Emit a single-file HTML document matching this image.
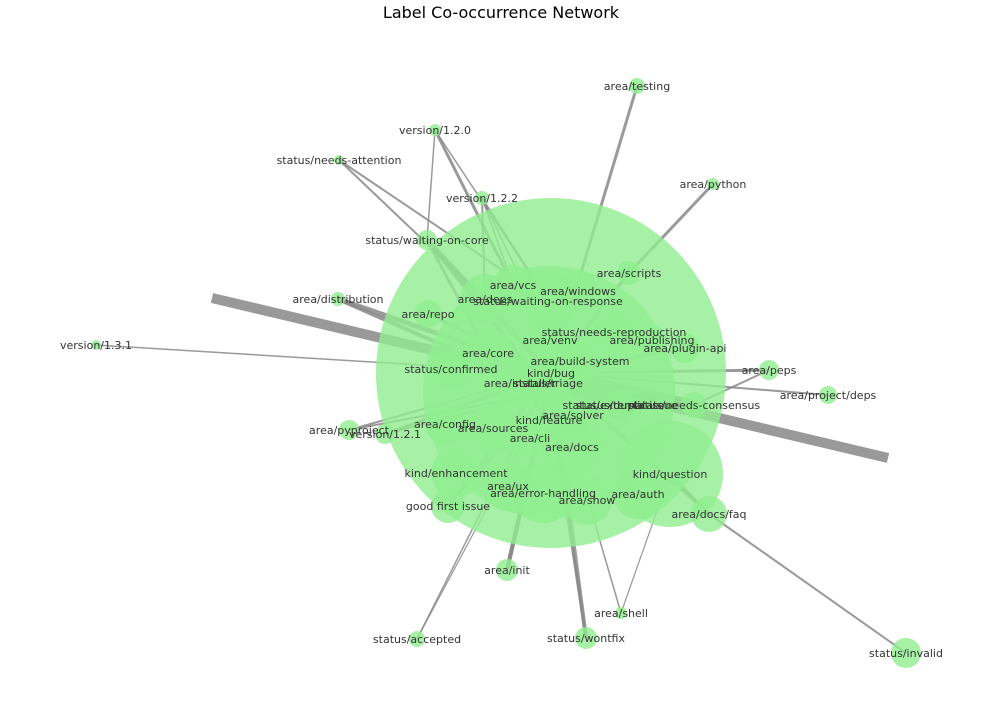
<!DOCTYPE html>
<html><head><meta charset="utf-8"><style>
body{margin:0;background:#fff;width:1002px;height:724px;overflow:hidden}
svg{display:block}
text{font-family:"DejaVu Sans","Liberation Sans",sans-serif}
</style></head><body>
<svg id="chart" width="1002" height="724" viewBox="0 0 1002 724">
<text x="501" y="18" text-anchor="middle" font-size="16" fill="#000">Label Co-occurrence Network</text>
<g id="edges"></g>
<g id="nodes"></g>
<g id="labels"></g>
</svg>
<script>
const nodeNames=["area/testing","version/1.2.0","status/needs-attention","area/python","version/1.2.2","status/waiting-on-core","area/scripts","area/distribution","area/repo","area/vcs","area/windows","area/deps","status/waiting-on-response","version/1.3.1","status/needs-reproduction","area/venv","area/publishing","area/plugin-api","area/core","area/build-system","status/confirmed","kind/bug","area/peps","area/installer","status/triage","area/project/deps","status/duplicate","status/external-issue","status/needs-consensus","area/solver","kind/feature","area/config","area/pyproject","version/1.2.1","area/sources","area/cli","area/docs","kind/enhancement","kind/question","area/ux","area/error-handling","area/auth","area/show","good first issue","area/docs/faq","area/init","area/shell","status/accepted","status/wontfix","status/invalid"];
const nodeX=[637,435,339,713,482,427,629,338,428,513,578,485,548,96,614,550,652,685,488,580,451,551,769,520,548,828,620,620,694,573,549,445,349,385,493,530,572,456,670,508,543,638,587,448,709,507,621,417,586,906];
const nodeY=[86,130,160,184,198,240,273,299,314,285,291,299,301,345,332,340,340,348,353,361,369,373,370,383,383,395,405,405,405,415,392,424,430,434,428,438,447,473,474,486,493,494,500,506,514,570,613,639,638,653];
const nodeSize=[8,6,5,6,7,10,12,7,14,20,20,25,30,5,20,20,15,15,25,20,20,175,10,25,25,9,15,15,13,20,126,20,10,10,25,20,30,25,53,25,30,25,25,17,18,11,6,8,11,15];
const edgeFrom=[0,1,1,2,2,3,4,4,4,4,5,5,7,7,8,13,22,22,25,32,32,33,33,44,44,45,45,46,46,47,47,48,48,49,6,17,28,28,43,43,5,1];
const edgeTo=[21,9,5,11,12,6,11,12,9,15,21,30,21,30,21,21,21,28,21,21,30,21,30,38,21,21,30,21,38,21,30,21,30,44,21,21,30,21,21,30,18,12];
const edgeW=[3,3,1.5,2,2,3,2,2,1.5,1.5,5,4,5,4,3,1.5,3,2,2,2,2,3,2,3,3,4,4,1.5,1.2,1.5,1.2,4,3,2,4,3,10,10,2,2,3,1.5];
const eg=document.getElementById('edges'),ng=document.getElementById('nodes'),lg=document.getElementById('labels');
const NS='http://www.w3.org/2000/svg';
for(let i=0;i<edgeFrom.length;i++){
 const a=edgeFrom[i],b=edgeTo[i];
 const l=document.createElementNS(NS,'line');
 l.setAttribute('x1',nodeX[a]);l.setAttribute('y1',nodeY[a]);
 l.setAttribute('x2',nodeX[b]);l.setAttribute('y2',nodeY[b]);
 l.setAttribute('stroke','#888');l.setAttribute('stroke-opacity','0.85');l.setAttribute('stroke-width',edgeW[i]);
 
 
 eg.appendChild(l);
}
const big=document.createElementNS(NS,'line');
big.setAttribute('x1',212);big.setAttribute('y1',298);big.setAttribute('x2',888);big.setAttribute('y2',458);
big.setAttribute('stroke','#999');big.setAttribute('stroke-width',10);


eg.insertBefore(big,eg.firstChild);
for(let i=0;i<nodeNames.length;i++){
 const c=document.createElementNS(NS,'circle');
 c.setAttribute('cx',nodeX[i]);c.setAttribute('cy',nodeY[i]);c.setAttribute('r',nodeSize[i]);
 c.setAttribute('fill','#90ee90');c.setAttribute('fill-opacity','0.8');
 
 
 ng.appendChild(c);
 const t=document.createElementNS(NS,'text');
 const ly=nodeNames[i]==='kind/feature'?nodeY[i]+28:nodeY[i];
 t.setAttribute('x',nodeX[i]);t.setAttribute('y',ly+4);
 t.setAttribute('text-anchor','middle');t.setAttribute('font-size','11');t.setAttribute('fill','#333');
 t.textContent=nodeNames[i];
 
 
 lg.appendChild(t);
}
</script>
</body></html>
